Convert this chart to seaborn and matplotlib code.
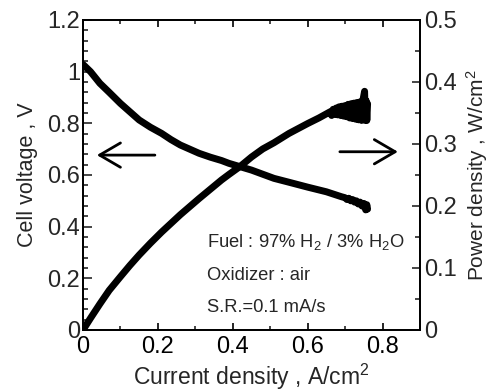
import matplotlib
matplotlib.use("Agg")
import matplotlib.pyplot as plt
import matplotlib.ticker as mticker
import seaborn as sns

# ---- data ----
current_iv = [0.0, 0.02, 0.045, 0.07, 0.10, 0.125, 0.15, 0.18, 0.21, 0.235,
              0.26, 0.285, 0.31, 0.34, 0.37, 0.39, 0.42, 0.45, 0.48, 0.51,
              0.55, 0.60, 0.65, 0.69,
              0.700, 0.705, 0.710, 0.715, 0.720, 0.725, 0.730, 0.735, 0.740,
              0.745, 0.750, 0.755, 0.758, 0.760]
voltage = [1.028, 1.000, 0.955, 0.920, 0.877, 0.845, 0.813, 0.785, 0.761, 0.737,
           0.716, 0.700, 0.684, 0.669, 0.656, 0.645, 0.632, 0.619, 0.603, 0.587,
           0.572, 0.553, 0.535, 0.516,
           0.512, 0.505, 0.510, 0.500, 0.505, 0.495, 0.500, 0.488, 0.495,
           0.480, 0.490, 0.465, 0.485, 0.468]

current_p = [0.0, 0.02, 0.045, 0.07, 0.10, 0.125, 0.15, 0.18, 0.21, 0.235,
             0.26, 0.285, 0.31, 0.34, 0.37, 0.39, 0.42, 0.45, 0.48, 0.51,
             0.55, 0.60, 0.63,
             0.660, 0.664, 0.668, 0.672, 0.676, 0.680, 0.684, 0.688, 0.692,
             0.696, 0.700, 0.704, 0.708, 0.712, 0.716, 0.720, 0.724, 0.728,
             0.732, 0.736, 0.740, 0.744, 0.748, 0.752, 0.754, 0.756, 0.758, 0.760]
power = [0.0, 0.019, 0.042, 0.064, 0.086, 0.104, 0.121, 0.140, 0.158, 0.172,
         0.186, 0.199, 0.212, 0.227, 0.242, 0.251, 0.264, 0.279, 0.292, 0.302,
         0.317, 0.333, 0.342,
         0.352, 0.346, 0.356, 0.348, 0.358, 0.347, 0.360, 0.346, 0.361,
         0.345, 0.362, 0.344, 0.364, 0.342, 0.365, 0.341, 0.366, 0.340,
         0.367, 0.339, 0.368, 0.338, 0.372, 0.385, 0.338, 0.370, 0.338, 0.365]

x_ticks = [0, 0.2, 0.4, 0.6, 0.8]
v_ticks = [0, 0.2, 0.4, 0.6, 0.8, 1.0, 1.2]
p_ticks = [0, 0.1, 0.2, 0.3, 0.4, 0.5]

sns.set_style("ticks")
plt.rcParams['font.family'] = ['Liberation Sans', 'DejaVu Sans']
plt.rcParams['mathtext.fontset'] = 'custom'
plt.rcParams['mathtext.rm'] = 'Liberation Sans'
plt.rcParams['mathtext.it'] = 'Liberation Sans'

fig = plt.figure(figsize=(4.92, 3.91), dpi=100)
ax = fig.add_axes([83/492, 1-330/391, (420-83)/492, (330-20)/391])
ax2 = ax.twinx()

sns.lineplot(x=current_iv, y=voltage, ax=ax, sort=False, estimator=None,
             color='black', lw=5, solid_capstyle='round', solid_joinstyle='round')
sns.lineplot(x=current_p, y=power, ax=ax2, sort=False, estimator=None,
             color='black', lw=5, solid_capstyle='round', solid_joinstyle='round')

ax.set_xlim(0, 0.9)
ax.set_ylim(0, 1.2)
ax2.set_ylim(0, 0.5)

fmt = mticker.FuncFormatter(lambda v, p: f"{v:g}")
ax.set_xticks(x_ticks)
ax.xaxis.set_minor_locator(mticker.MultipleLocator(0.1))
ax.set_yticks(v_ticks)
ax.yaxis.set_minor_locator(mticker.MultipleLocator(0.04))
ax2.set_yticks(p_ticks)
ax2.yaxis.set_minor_locator(mticker.MultipleLocator(0.05))
for a in (ax.xaxis, ax.yaxis, ax2.yaxis):
    a.set_major_formatter(fmt)

ax.tick_params(axis='x', which='major', direction='in', length=5, width=1.2,
               top=True, labelsize=17, pad=4, colors='black')
ax.tick_params(axis='x', which='minor', direction='in', length=3, width=1.2, top=True)
ax.tick_params(axis='y', which='major', direction='in', length=6.5, width=1.2,
               right=False, labelsize=17, pad=2)
ax.tick_params(axis='y', which='minor', direction='in', length=3.5, width=1.2, right=False)
ax2.tick_params(axis='y', which='major', direction='in', length=6, width=1.2,
                labelsize=17, pad=3)
ax2.tick_params(axis='y', which='minor', direction='in', length=3.5, width=1.2)

for a in (ax, ax2):
    for s in a.spines.values():
        s.set_visible(True)
        s.set_linewidth(1.3)
        s.set_color('black')

ax.set_xlabel("Current density , A/cm$^2$", fontsize=16.5, labelpad=3)
ax.set_ylabel("Cell voltage , V", fontsize=15.5, labelpad=7)
ax2.set_ylabel("Power density , W/cm$^2$", fontsize=15, labelpad=5)

# arrows
ax.annotate("", xy=(0.037, 0.677), xytext=(0.192, 0.677),
            arrowprops=dict(arrowstyle='->,head_length=0.6,head_width=0.35',
                            lw=2, color='black', mutation_scale=25, shrinkA=0, shrinkB=0))
ax.annotate("", xy=(0.841, 0.69), xytext=(0.686, 0.69),
            arrowprops=dict(arrowstyle='->,head_length=0.6,head_width=0.35',
                            lw=2, color='black', mutation_scale=25, shrinkA=0, shrinkB=0))

# annotation text
txt_kw = dict(transform=ax.transAxes, fontsize=13.2, va='center', ha='left')
x0 = (207-83)/337
ax.text(x0, 1-(242-20)/310, "Fuel : 97% H$_2$ / 3% H$_2$O", **txt_kw)
ax.text(x0, 1-(276-20)/310, "Oxidizer : air", **txt_kw)
ax.text(x0, 1-(308-20)/310, "S.R.=0.1 mA/s", **txt_kw)

fig.savefig("out.png", dpi=100)
